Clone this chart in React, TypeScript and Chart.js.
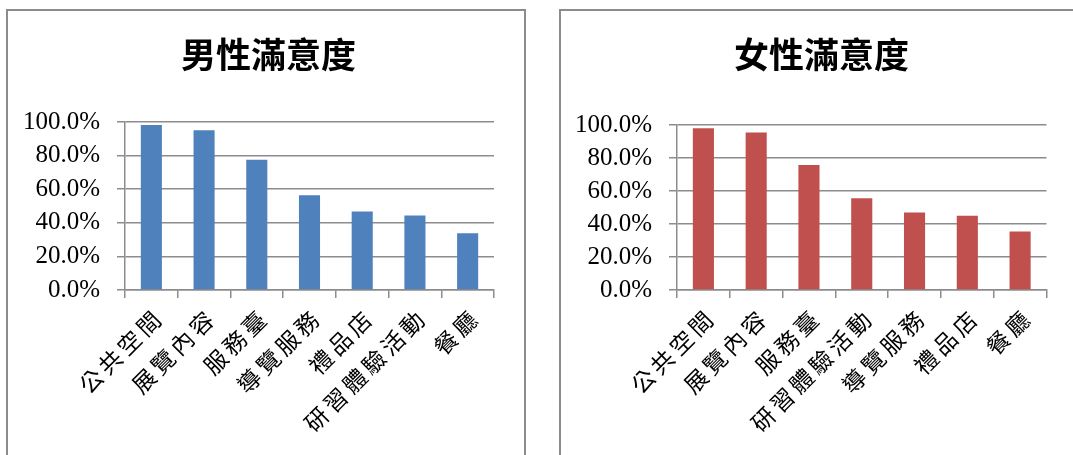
import React, { useEffect, useRef } from "react";
import { Chart, registerables } from "chart.js";

Chart.register(...registerables);

const maleCategories = ["公共空間", "展覽內容", "服務臺", "導覽服務", "禮品店", "研習體驗活動", "餐廳"];
const maleValues = [98.2, 95.1, 77.6, 56.4, 46.8, 44.4, 33.8];

const femaleCategories = ["公共空間", "展覽內容", "服務臺", "研習體驗活動", "導覽服務", "禮品店", "餐廳"];
const femaleValues = [98.0, 95.4, 75.8, 55.6, 47.0, 45.0, 35.4];

const yTicks = [0, 20, 40, 60, 80, 100];

const GRID = "#8c8c8c";

// letter spacing only for the category labels (drawn after datasets, z = 1)
const spacingPlugin = {
  id: "xLabelSpacing",
  afterDatasetsDraw(chart: any) {
    (chart.ctx as any).letterSpacing = "4px";
  },
  afterDraw(chart: any) {
    (chart.ctx as any).letterSpacing = "0px";
  },
};

type Props = {
  title: string;
  categories: string[];
  values: number[];
  color: string;
  left: number;
  yWidth: number;
  padRight: number;
  titleBottom: number;
};

function BarPanel({ title, categories, values, color, left, yWidth, padRight, titleBottom }: Props) {
  const ref = useRef<HTMLCanvasElement | null>(null);
  useEffect(() => {
    if (!ref.current) return;
    const chart = new Chart(ref.current, {
      type: "bar",
      data: {
        labels: categories,
        datasets: [
          {
            data: values,
            backgroundColor: color,
            borderWidth: 0,
            barPercentage: 0.4,
            categoryPercentage: 1,
            yAxisID: "y",
          },
        ],
      },
      plugins: [spacingPlugin],
      options: {
        responsive: false,
        animation: false,
        devicePixelRatio: 1,
        layout: { padding: { left: 5, right: 0, top: 0, bottom: 0 } },
        plugins: {
          legend: { display: false },
          tooltip: { enabled: false },
          title: {
            display: true,
            text: title,
            color: "#000",
            font: { family: "'Noto Sans CJK TC', 'Noto Sans CJK SC', sans-serif", size: 35, weight: "bold", lineHeight: 1.2 },
            padding: { top: 23, bottom: titleBottom },
          },
        },
        scales: {
          x: {
            type: "category",
            offset: true,
            grid: {
              display: true,
              drawOnChartArea: false,
              offset: true,
              tickLength: 8,
              color: GRID,
              lineWidth: 1.5,
            },
            border: { display: true, color: GRID, width: 1.5 },
            ticks: {
              z: 1,
              autoSkip: false,
              maxRotation: 45,
              minRotation: 45,
              labelOffset: 8,
              padding: 5,
              color: "#000",
              font: { family: "'Noto Sans CJK TC', 'Noto Sans CJK SC', sans-serif", size: 23, lineHeight: 1.2 },
            },
            afterFit: (scale: any) => {
              scale.height = 165;
            },
          },
          y: {
            type: "linear",
            position: "left",
            min: 0,
            max: 100,
            afterBuildTicks: (scale: any) => {
              scale.ticks = yTicks.map((v) => ({ value: v }));
            },
            grid: {
              color: GRID,
              lineWidth: 1.5,
              tickLength: 8,
              drawTicks: true,
            },
            border: { display: true, color: GRID, width: 1.5 },
            ticks: {
              padding: 17,
              color: "#000",
              font: { family: "'Liberation Serif', 'Times New Roman', serif", size: 25 },
              callback: (v: any) => Number(v).toFixed(1) + "%",
            },
            afterFit: (scale: any) => {
              scale.width = yWidth;
            },
          },
          yRight: {
            type: "linear",
            position: "right",
            display: true,
            grid: { display: false, drawTicks: false },
            border: { display: false },
            ticks: { display: false },
            afterFit: (scale: any) => {
              scale.width = padRight;
            },
          },
        },
      },
    });
    return () => chart.destroy();
  }, []);
  return (
    <div
      style={{
        position: "absolute",
        left,
        top: 9,
        width: 520,
        height: 470,
        border: `2px solid ${GRID}`,
        boxSizing: "border-box",
        background: "#fff",
      }}
    >
      <canvas ref={ref} width={516} height={444} style={{ display: "block", width: 516, height: 444 }} />
    </div>
  );
}

export default function App() {
  return (
    <div
      style={{
        position: "absolute",
        left: 0,
        top: 0,
        width: 1073,
        height: 455,
        overflow: "hidden",
        background: "#fff",
      }}
    >
      <BarPanel
        title="男性滿意度"
        categories={maleCategories}
        values={maleValues}
        color="#4F81BD"
        left={6}
        yWidth={112}
        padRight={30}
        titleBottom={46}
      />
      <BarPanel
        title="女性滿意度"
        categories={femaleCategories}
        values={femaleValues}
        color="#C0504D"
        left={559}
        yWidth={111}
        padRight={30.5}
        titleBottom={49}
      />
    </div>
  );
}
